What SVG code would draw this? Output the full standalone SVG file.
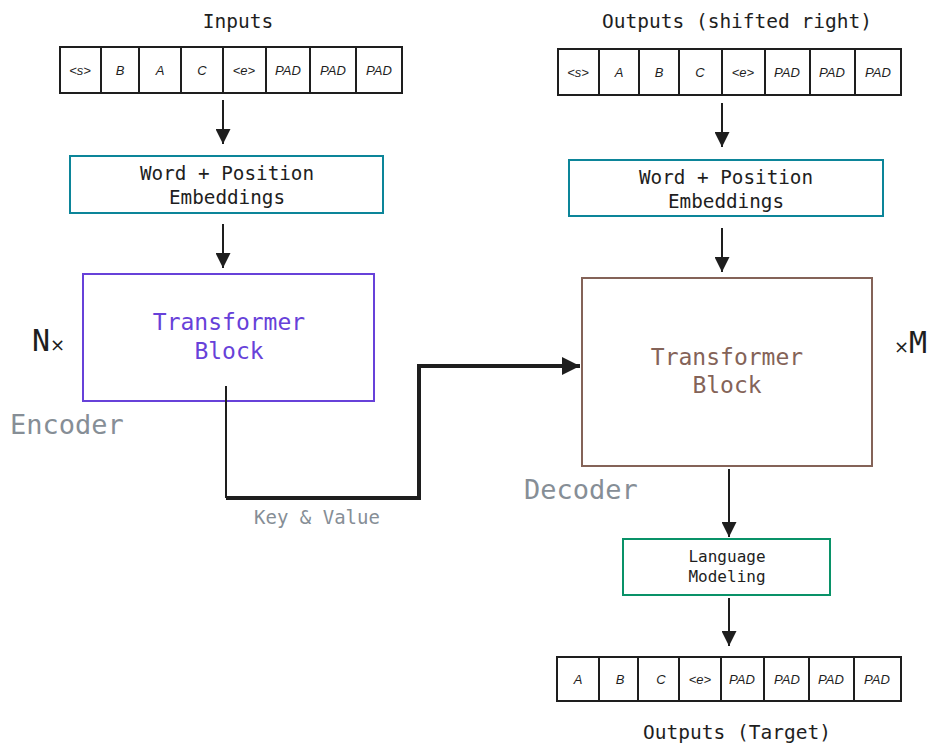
<svg xmlns="http://www.w3.org/2000/svg" width="936" height="754" viewBox="0 0 936 754">
<defs>
<style>
.mono{font-family:"DejaVu Sans Mono","Liberation Mono",monospace;}
.tok{font-family:"Liberation Sans","DejaVu Sans",sans-serif;font-size:13px;font-style:italic;fill:#1e1e1e;text-anchor:middle;}
.cell{fill:#fff;stroke:#1e1e1e;stroke-width:2;}
.title{font-size:19.5px;fill:#1e1e1e;text-anchor:middle;}
.emb{fill:#fff;stroke:#0c8599;stroke-width:2;}
.lbl{font-size:19.3px;fill:#1e1e1e;text-anchor:middle;}
.gray{fill:#868e96;}
.line{stroke:#1e1e1e;fill:none;stroke-width:2;}
</style>
<marker id="ah" viewBox="0 0 10 10" refX="10" refY="5" markerWidth="7.5" markerHeight="7.5" markerUnits="strokeWidth" orient="auto">
<path d="M0,0 L10,5 L0,10 z" fill="#1e1e1e"/>
</marker>
<marker id="ah2" viewBox="0 0 10 10" refX="10" refY="5" markerWidth="5" markerHeight="4.5" markerUnits="strokeWidth" orient="auto">
<path d="M0,0 L10,5 L0,10 z" fill="#1e1e1e"/>
</marker>
</defs>
<rect width="936" height="754" fill="#fff"/>

<g id="inputs">
<text class="mono title" x="238" y="28">Inputs</text>
<rect class="cell" x="60" y="47" width="41" height="46"/>
<rect class="cell" x="101" y="47" width="38" height="46"/>
<rect class="cell" x="139" y="47" width="42" height="46"/>
<rect class="cell" x="181" y="47" width="42" height="46"/>
<rect class="cell" x="223" y="47" width="43" height="46"/>
<rect class="cell" x="266" y="47" width="44" height="46"/>
<rect class="cell" x="310" y="47" width="46" height="46"/>
<rect class="cell" x="356" y="47" width="46" height="46"/>
<text class="tok" x="80" y="75">&lt;s&gt;</text>
<text class="tok" x="120" y="75">B</text>
<text class="tok" x="160" y="75">A</text>
<text class="tok" x="202" y="75">C</text>
<text class="tok" x="244" y="75">&lt;e&gt;</text>
<text class="tok" x="288" y="75">PAD</text>
<text class="tok" x="333" y="75">PAD</text>
<text class="tok" x="379" y="75">PAD</text>
</g>

<g id="enc-embed">
<rect class="emb" x="70" y="156" width="313" height="57"/>
<text class="mono lbl" x="227" y="180">Word + Position</text>
<text class="mono lbl" x="227" y="204">Embeddings</text>
</g>

<g id="encoder">
<rect x="83" y="274" width="291" height="127" fill="#fff" stroke="#6741d9" stroke-width="2"/>
<text class="mono" x="229" y="330" font-size="23" fill="#6741d9" text-anchor="middle">Transformer</text>
<text class="mono" x="229" y="359" font-size="23" fill="#6741d9" text-anchor="middle">Block</text>
<text x="32" y="351" font-family="'DejaVu Sans Mono','Liberation Mono',monospace" font-size="30" fill="#1e1e1e">N<tspan font-size="18" font-family="'DejaVu Sans',sans-serif">×</tspan></text>
<text class="mono gray" x="10" y="434" font-size="27">Encoder</text>
</g>

<g id="outputs-shifted">
<text class="mono title" x="737" y="28">Outputs (shifted right)</text>
<rect class="cell" x="558" y="49" width="41" height="46"/>
<rect class="cell" x="599" y="49" width="40" height="46"/>
<rect class="cell" x="639" y="49" width="40" height="46"/>
<rect class="cell" x="679" y="49" width="43" height="46"/>
<rect class="cell" x="722" y="49" width="43" height="46"/>
<rect class="cell" x="765" y="49" width="45" height="46"/>
<rect class="cell" x="810" y="49" width="45" height="46"/>
<rect class="cell" x="855" y="49" width="46" height="46"/>
<text class="tok" x="578" y="77">&lt;s&gt;</text>
<text class="tok" x="619" y="77">A</text>
<text class="tok" x="659" y="77">B</text>
<text class="tok" x="700" y="77">C</text>
<text class="tok" x="743" y="77">&lt;e&gt;</text>
<text class="tok" x="787" y="77">PAD</text>
<text class="tok" x="832" y="77">PAD</text>
<text class="tok" x="878" y="77">PAD</text>
</g>

<g id="dec-embed">
<rect class="emb" x="569" y="160" width="314" height="56"/>
<text class="mono lbl" x="726" y="184">Word + Position</text>
<text class="mono lbl" x="726" y="208">Embeddings</text>
</g>

<g id="decoder">
<rect x="582" y="278" width="290" height="188" fill="#fff" stroke="#846358" stroke-width="2"/>
<text class="mono" x="727" y="365" font-size="23" fill="#846358" text-anchor="middle">Transformer</text>
<text class="mono" x="727" y="393" font-size="23" fill="#846358" text-anchor="middle">Block</text>
<text x="894" y="353" font-family="'DejaVu Sans Mono','Liberation Mono',monospace" font-size="30" fill="#1e1e1e"><tspan font-size="18" font-family="'DejaVu Sans',sans-serif">×</tspan>M</text>
<text class="mono gray" x="524" y="499" font-size="27">Decoder</text>
</g>

<g id="lm">
<rect x="623" y="539" width="207" height="56" fill="#fff" stroke="#099268" stroke-width="2"/>
<text class="mono" x="727" y="562" font-size="16" fill="#1e1e1e" text-anchor="middle">Language</text>
<text class="mono" x="727" y="582" font-size="16" fill="#1e1e1e" text-anchor="middle">Modeling</text>
</g>

<g id="outputs-target">
<rect class="cell" x="557" y="657" width="42" height="44"/>
<rect class="cell" x="599" y="657" width="39" height="44"/>
<rect class="cell" x="638" y="657" width="41" height="44"/>
<rect class="cell" x="679" y="657" width="42" height="44"/>
<rect class="cell" x="721" y="657" width="43" height="44"/>
<rect class="cell" x="764" y="657" width="45" height="44"/>
<rect class="cell" x="809" y="657" width="45" height="44"/>
<rect class="cell" x="854" y="657" width="47" height="44"/>
<text class="tok" x="578" y="684">A</text>
<text class="tok" x="620" y="684">B</text>
<text class="tok" x="661" y="684">C</text>
<text class="tok" x="700" y="684">&lt;e&gt;</text>
<text class="tok" x="742" y="684">PAD</text>
<text class="tok" x="787" y="684">PAD</text>
<text class="tok" x="831" y="684">PAD</text>
<text class="tok" x="877" y="684">PAD</text>
<text class="mono title" x="737" y="739">Outputs (Target)</text>
</g>

<g id="connectors">
<line class="line" x1="223" y1="100" x2="223" y2="144" marker-end="url(#ah)"/>
<line class="line" x1="223" y1="224" x2="223" y2="268" marker-end="url(#ah)"/>
<line class="line" x1="722" y1="103" x2="722" y2="147" marker-end="url(#ah)"/>
<line class="line" x1="722" y1="228" x2="722" y2="272" marker-end="url(#ah)"/>
<line class="line" x1="729" y1="469" x2="729" y2="537" marker-end="url(#ah)"/>
<line class="line" x1="729" y1="598" x2="729" y2="646" marker-end="url(#ah)"/>
<line class="line" x1="226" y1="386" x2="226" y2="498"/>
<path d="M226,498 H419 V366 H580" fill="none" stroke="#1e1e1e" stroke-width="4" stroke-linejoin="miter" marker-end="url(#ah2)"/>
<text class="mono gray" x="317" y="524" font-size="19" text-anchor="middle">Key &amp; Value</text>
</g>
</svg>
